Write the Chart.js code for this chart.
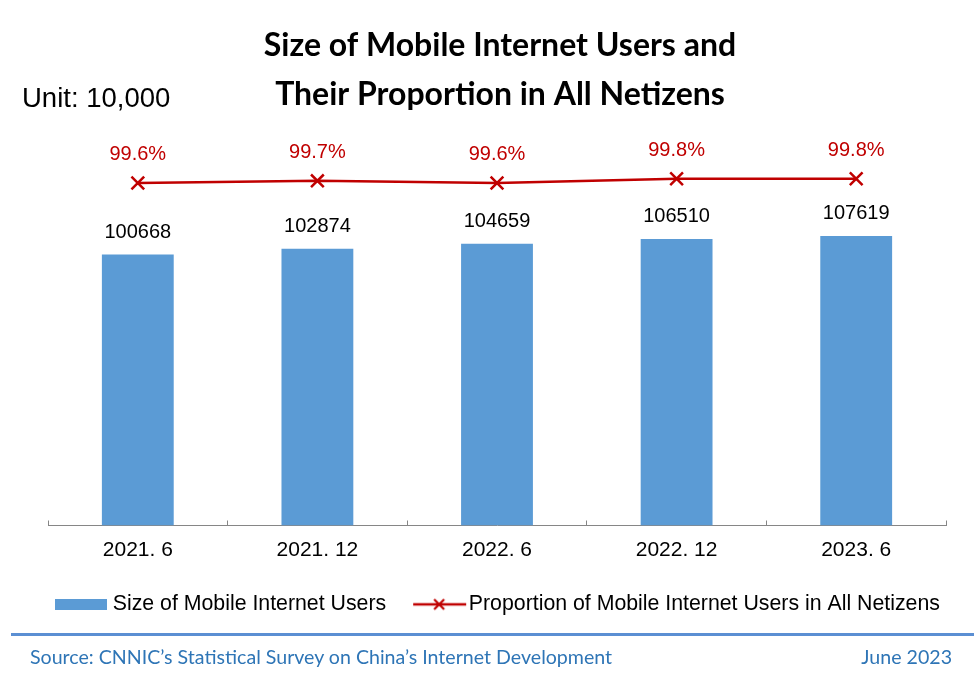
<!DOCTYPE html>
<html><head><meta charset="utf-8">
<script src="https://cdn.jsdelivr.net/npm/chart.js@4.4.0/dist/chart.umd.min.js"></script>
<style>
html,body{margin:0;padding:0;background:#fff;}
#wrap{position:relative;width:974px;height:684px;overflow:hidden;background:#fff;}
#c{position:absolute;left:0;top:0;}
.unit{position:absolute;left:22px;top:83px;font:27.5px "Liberation Sans",Arial,sans-serif;color:#000;line-height:30px;}
.rule{position:absolute;left:11px;right:0;top:633px;height:3px;background:#5B8FD3;}
.src{position:absolute;left:30px;top:646px;font:19.6px Lato,"Open Sans",sans-serif;color:#2E75B6;line-height:22px;}
.date{position:absolute;right:22px;top:646px;font:19.6px Lato,"Open Sans",sans-serif;color:#2E75B6;line-height:22px;}
</style>
</head><body>
<div id="wrap">
<canvas id="c" width="974" height="684"></canvas>
<div class="unit">Unit: 10,000</div>
<div class="rule"></div>
<div class="src">Source: CNNIC’s Statistical Survey on China’s Internet Development</div>
<div class="date">June 2023</div>
</div>
<script>
const categories = ['2021. 6', '2021. 12', '2022. 6', '2022. 12', '2023. 6'];
const users = [100668, 102874, 104659, 106510, 107619];
const proportion = [99.6, 99.7, 99.6, 99.8, 99.8];
const proportionLabels = ['99.6%', '99.7%', '99.6%', '99.8%', '99.8%'];
const seriesNames = ['Size of Mobile Internet Users', 'Proportion of Mobile Internet Users in All Netizens'];
const titleLines = ['Size of Mobile Internet Users and', 'Their Proportion in All Netizens'];

const BLUE = '#5B9BD5';
const RED = '#C00000';

// legend icons
const barIcon = document.createElement('canvas');
barIcon.width = 52; barIcon.height = 11;
(function(){ const g = barIcon.getContext('2d'); g.fillStyle = BLUE; g.fillRect(0,0,52,11); })();
const lineIcon = document.createElement('canvas');
lineIcon.width = 60; lineIcon.height = 16;
(function(){
  const g = lineIcon.getContext('2d');
  g.strokeStyle = RED; g.lineWidth = 2.5;
  g.beginPath(); g.moveTo(6,8); g.lineTo(59,8); g.stroke();
  g.lineWidth = 2.2;
  g.beginPath(); g.moveTo(27,3); g.lineTo(37,13); g.moveTo(37,3); g.lineTo(27,13); g.stroke();
})();
const legendIcons = [barIcon, lineIcon];

const valueLabels = {
  id: 'valueLabels',
  afterDatasetsDraw(chart) {
    const ctx = chart.ctx;
    ctx.save();
    ctx.textAlign = 'center';
    ctx.textBaseline = 'middle';
    ctx.font = '20px "Liberation Sans", Arial, sans-serif';
    ctx.fillStyle = '#000';
    chart.getDatasetMeta(0).data.forEach((el, i) => {
      ctx.fillText(String(users[i]), el.x, el.y - 22);
    });
    ctx.fillStyle = RED;
    chart.getDatasetMeta(1).data.forEach((el, i) => {
      ctx.fillText(proportionLabels[i], el.x, el.y - 28.5);
    });
    ctx.restore();
  }
};

new Chart(document.getElementById('c'), {
  type: 'bar',
  data: {
    labels: categories,
    datasets: [
      {
        type: 'bar',
        label: seriesNames[0],
        data: users,
        backgroundColor: BLUE,
        borderWidth: 0,
        barPercentage: 0.4,
        categoryPercentage: 1.0,
        yAxisID: 'y',
        order: 1
      },
      {
        type: 'line',
        label: seriesNames[1],
        data: proportion,
        borderColor: RED,
        backgroundColor: RED,
        borderWidth: 2.5,
        pointStyle: 'crossRot',
        pointRadius: 9,
        pointBorderWidth: 2.5,
        pointBorderColor: RED,
        tension: 0,
        yAxisID: 'y1',
        order: 0
      }
    ]
  },
  options: {
    responsive: false,
    animation: false,
    layout: { padding: { left: 26, right: 0, top: 0, bottom: 59 } },
    scales: {
      x: {
        offset: true,
        border: { display: true, color: '#868686', width: 1 },
        grid: { display: true, drawOnChartArea: false, drawTicks: true, tickLength: -5, color: '#868686' },
        ticks: { color: '#000', padding: 17, font: { family: '"Liberation Sans", Arial, sans-serif', size: 21 } },
        afterFit(s) { s.height = s.height - 16; }
      },
      y: {
        display: true, position: 'left', min: 0, max: 146600,
        ticks: { display: false }, grid: { display: false }, border: { display: false },
        afterFit(s) { s.width = 22; }
      },
      y1: {
        display: true, position: 'right', min: 83.39, max: 102.06,
        ticks: { display: false }, grid: { display: false }, border: { display: false },
        afterFit(s) { s.width = 28; }
      }
    },
    plugins: {
      title: {
        display: true,
        text: titleLines,
        color: '#000',
        font: { family: 'Lato, "Open Sans", sans-serif', weight: 'bold', size: 32, lineHeight: 49 / 32 },
        padding: { top: 21, bottom: 12 }
      },
      legend: {
        position: 'bottom',
        labels: {
          color: '#000',
          font: { family: '"Liberation Sans", Arial, sans-serif', size: 21.3 },
          usePointStyle: true,
          pointStyleWidth: 42,
          padding: 30,
          sort: (a, b) => a.datasetIndex - b.datasetIndex,
          generateLabels(chart) {
            const items = Chart.defaults.plugins.legend.labels.generateLabels(chart);
            items.forEach((it) => { it.pointStyle = legendIcons[it.datasetIndex]; });
            return items;
          }
        }
      },
      tooltip: { enabled: false }
    }
  },
  plugins: [valueLabels]
});
</script>
</body></html>
